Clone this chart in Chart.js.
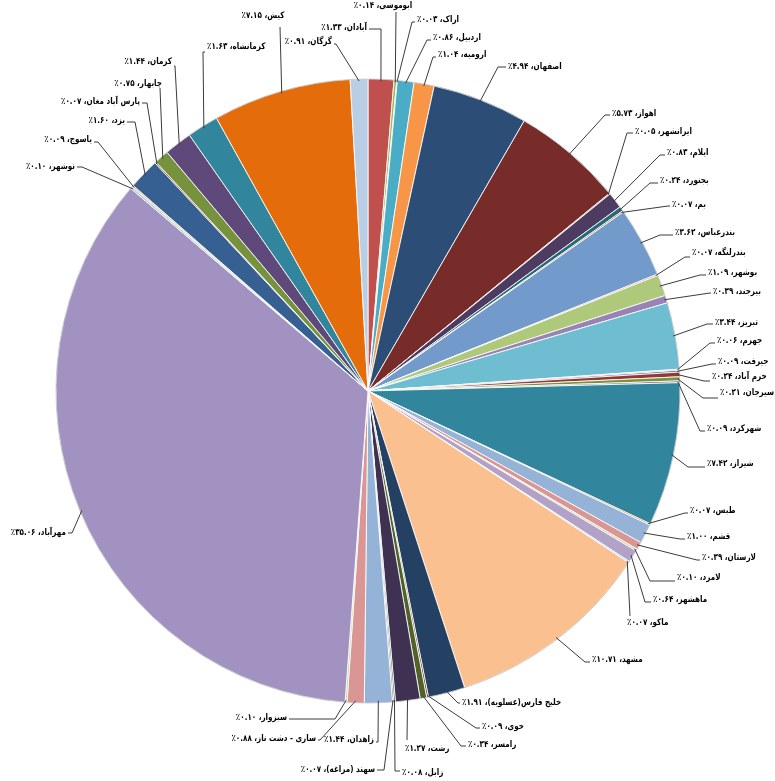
<!DOCTYPE html>
<html lang="fa">
<head>
<meta charset="utf-8">
<script src="https://cdn.jsdelivr.net/npm/chart.js@4.4.0/dist/chart.umd.min.js"></script>
<style>
  html, body { margin: 0; padding: 0; background: #fff; }
  canvas { display: block; }
</style>
</head>
<body>
<canvas id="pie" width="775" height="781"></canvas>
<script>
// airports, in the order the slices run clockwise from 12 o'clock
const airports = [
  "آبادان", "ابوموسی", "اراک", "اردبیل", "ارومیه", "اصفهان", "اهواز", "ایرانشهر",
  "ایلام", "بجنورد", "بم", "بندرعباس", "بندرلنگه", "بوشهر", "بیرجند", "تبریز",
  "جهرم", "جیرفت", "خرم آباد", "سیرجان", "شهرکرد", "شیراز", "طبس", "قشم",
  "لارستان", "لامرد", "ماهشهر", "ماکو", "مشهد", "خلیج فارس(عسلویه)", "خوی", "رامسر",
  "رشت", "زابل", "سهند (مراغه)", "زاهدان", "ساری - دشت ناز", "سبزوار", "مهرآباد", "نوشهر",
  "یاسوج", "یزد", "پارس آباد مغان", "چابهار", "کرمان", "کرمانشاه", "کیش", "گرگان"
];

// share of total (%)
const shares = [
  1.33, 0.14, 0.03, 0.86, 1.04, 4.94, 5.73, 0.05,
  0.83, 0.24, 0.07, 3.62, 0.07, 1.09, 0.39, 3.44,
  0.06, 0.09, 0.24, 0.21, 0.09, 7.42, 0.07, 1.00,
  0.39, 0.10, 0.64, 0.07, 10.71, 1.91, 0.09, 0.34,
  1.27, 0.08, 0.07, 1.44, 0.88, 0.10, 35.06, 0.10,
  0.09, 1.60, 0.07, 0.75, 1.44, 1.63, 7.15, 0.91
];

const sliceColors = [
  "#C0504D", "#9BBB59", "#8064A2", "#4BACC6", "#F79646", "#2C4D75", "#772C2A", "#5F7530",
  "#4D3B62", "#276A7C", "#B65708", "#729ACA", "#CD7371", "#AFC97A", "#9983B5", "#6FBDD1",
  "#F9AB6B", "#3A679C", "#953735", "#77933C", "#604A7B", "#31859C", "#E46C0A", "#95B3D7",
  "#D99694", "#C3D69B", "#B3A2C7", "#93CDDD", "#FAC090", "#244062", "#632523", "#4F6228",
  "#3F3151", "#205867", "#974806", "#95B3D7", "#D99694", "#C3D69B", "#A292C2", "#93CDDD",
  "#FAC090", "#366092", "#953735", "#76923C", "#5F497A", "#31859C", "#E46C0A", "#B9CDE5"
];

// where each data label sits: text x, text y, align, leader end x, leader end y
const labelLayout = [
  [367, 28, "right", 381, 29],
  [383, 6, "center", 396, 12],
  [417, 20, "left", 412, 22],
  [433, 38, "left", 427, 40],
  [438, 55, "left", 433, 57],
  [508, 67, "left", 498, 67],
  [612, 114, "left", 605, 115],
  [635, 132, "left", 627, 133],
  [667, 153, "left", 660, 155],
  [660, 181, "left", 650, 183],
  [672, 205, "left", 668, 206],
  [675, 233, "left", 660, 235],
  [692, 253, "left", 685, 257],
  [708, 273, "left", 700, 275],
  [713, 292, "left", 710, 293],
  [715, 323, "left", 707, 324],
  [717, 341, "left", 710, 343],
  [718, 362, "left", 712, 364],
  [712, 377, "left", 704, 381],
  [720, 393, "left", 703, 398],
  [707, 429, "left", 700, 431],
  [707, 464, "left", 688, 467],
  [690, 511, "left", 685, 513],
  [687, 537, "left", 680, 539],
  [702, 558, "left", 697, 560],
  [677, 578, "left", 650, 581],
  [653, 600, "left", 645, 602],
  [627, 623, "left", 630, 616],
  [592, 660, "left", 585, 662],
  [462, 703, "left", 458, 703],
  [482, 727, "left", 476, 728],
  [468, 745, "left", 461, 746],
  [405, 749, "left", 407, 740],
  [402, 773, "left", 395, 771],
  [375, 770, "right", 384, 770],
  [374, 740, "right", 378, 742],
  [316, 739, "right", 320, 740],
  [287, 718, "right", 335, 719],
  [66, 533, "right", 72, 533],
  [75, 167, "right", 82, 167],
  [92, 140, "right", 98, 142],
  [125, 121, "right", 135, 122],
  [140, 102, "right", 147, 103],
  [162, 84, "right", 160, 88],
  [172, 62, "right", 175, 66],
  [207, 47, "left", 203, 52],
  [263, 16, "center", 280, 27],
  [332, 42, "right", 336, 44]
];

const faDigits = s => s.replace(/\d/g, d => "۰۱۲۳۴۵۶۷۸۹"[d]);

function labelText(i) {
  return airports[i] + "، " + faDigits(shares[i].toFixed(2)) + "٪";
}

const leaderLabels = {
  id: "leaderLabels",
  afterDatasetsDraw(chart) {
    const ctx = chart.ctx;
    const arcs = chart.getDatasetMeta(0).data;
    ctx.save();
    // soft rim round the whole pie, like the bevelled original
    const c = arcs[0].getProps(["x", "y", "outerRadius"], true);
    ctx.strokeStyle = "rgba(0,0,0,0.18)";
    ctx.lineWidth = 1;
    ctx.beginPath();
    ctx.arc(c.x, c.y, c.outerRadius, 0, Math.PI * 2);
    ctx.stroke();

    ctx.strokeStyle = "#3a3a3a";
    ctx.fillStyle = "#000";
    ctx.font = 'bold 9px "DejaVu Sans"';
    ctx.direction = "rtl";
    ctx.textBaseline = "middle";
    arcs.forEach((arc, i) => {
      const p = arc.getProps(["x", "y", "startAngle", "endAngle", "outerRadius"], true);
      const mid = (p.startAngle + p.endAngle) / 2;
      const ex = p.x + Math.cos(mid) * (p.outerRadius - 2);
      const ey = p.y + Math.sin(mid) * (p.outerRadius - 2);
      const [tx, ty, align, lx, ly] = labelLayout[i];
      ctx.beginPath();
      ctx.moveTo(ex, ey);
      ctx.lineTo(lx, ly);
      if (align === "left" && lx < tx - 2) ctx.lineTo(tx - 2, ly);
      if (align === "right" && lx > tx + 2) ctx.lineTo(tx + 2, ly);
      ctx.stroke();
      // the original labels use a narrow Persian face, so squeeze the text a bit
      ctx.save();
      ctx.translate(tx, ty);
      ctx.scale(0.8, 1);
      ctx.textAlign = align;
      ctx.fillText(labelText(i), 0, 0);
      ctx.restore();
    });
    ctx.restore();
  }
};

new Chart(document.getElementById("pie"), {
  type: "pie",
  data: {
    labels: airports,
    datasets: [{
      data: shares,
      backgroundColor: sliceColors,
      borderColor: "rgba(255,255,255,0.85)",
      borderWidth: 1
    }]
  },
  options: {
    responsive: false,
    animation: false,
    radius: 312,
    layout: { padding: { left: 0, right: 39, top: 1, bottom: 0 } },
    plugins: {
      legend: { display: false },
      tooltip: { enabled: false }
    }
  },
  plugins: [leaderLabels]
});
</script>
</body>
</html>
